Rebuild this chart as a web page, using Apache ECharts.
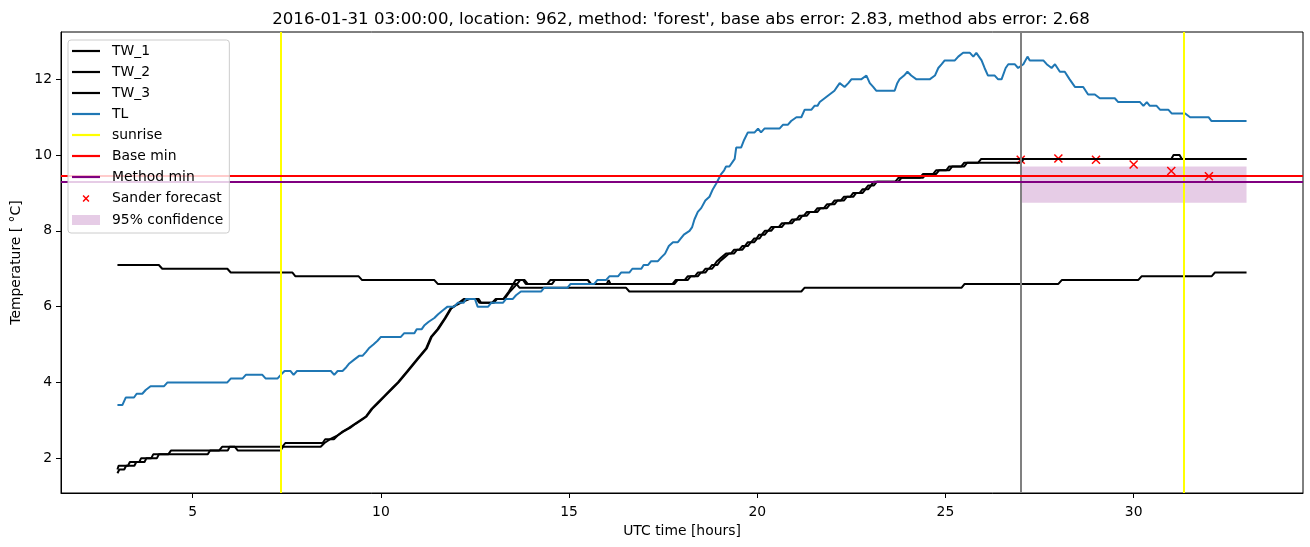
<!DOCTYPE html>
<html>
<head>
<meta charset="utf-8">
<script src="https://cdn.jsdelivr.net/npm/echarts@6/dist/echarts.min.js"></script>
<style>
html,body{margin:0;padding:0;background:#fff;}
#chart{width:1310px;height:547px;}
</style>
</head>
<body>
<div id="chart"></div>
<script>
// ---------- data (hours UTC, temperature °C) ----------
const titleText = "2016-01-31 03:00:00, location: 962, method: 'forest', base abs error: 2.83, method abs error: 2.68";
const xTicks = [5, 10, 15, 20, 25, 30];
const yTicks = [2, 4, 6, 8, 10, 12];
const xRange = [1.5, 34.5];
const yRange = [1.08, 13.25];

const tw1 = [[3.0,7.1],[4.1,7.1],[4.19,7.0],[5.92,7.0],[6.01,6.9],[7.65,6.9],[7.73,6.8],[9.41,6.8],[9.5,6.7],[11.42,6.7],[11.51,6.6],[13.6,6.6],[13.68,6.5],[16.51,6.5],[16.6,6.4],[21.17,6.4],[21.26,6.5],[25.43,6.5],[25.51,6.6],[28.0,6.6],[28.09,6.7],[30.12,6.7],[30.21,6.8],[32.07,6.8],[32.16,6.9],[33.0,6.9]];

const tw2 = [[3.0,1.7],[3.03,1.8],[3.28,1.8],[3.33,1.9],[3.58,1.9],[3.63,2.0],[3.9,2.0],[3.95,2.1],[4.35,2.1],[4.42,2.2],[5.7,2.2],[5.78,2.3],[7.38,2.3],[7.46,2.4],[8.45,2.4],[8.52,2.5],[8.75,2.5],[8.85,2.6],[8.98,2.7],[9.15,2.8],[9.3,2.9],[9.45,3.0],[9.6,3.1],[9.75,3.3],[9.9,3.45],[10.1,3.65],[10.3,3.85],[10.45,4.0],[10.7,4.3],[10.95,4.6],[11.2,4.9],[11.33,5.2],[11.5,5.4],[11.7,5.7],[11.85,5.95],[12.0,6.05],[12.2,6.2],[12.6,6.2],[12.66,6.1],[12.95,6.1],[13.05,6.2],[13.25,6.2],[13.4,6.4],[13.58,6.7],[13.82,6.7],[13.9,6.6],[14.42,6.6],[14.5,6.7],[15.5,6.7],[15.58,6.6],[17.75,6.6],[17.83,6.7],[18.07,6.7],[18.15,6.8],[18.34,6.8],[18.42,6.9],[18.54,6.9],[18.62,7.0],[18.72,7.0],[18.8,7.1],[18.86,7.1],[18.93,7.2],[18.98,7.2],[19.05,7.3],[19.1,7.3],[19.17,7.4],[19.3,7.4],[19.38,7.5],[19.52,7.5],[19.6,7.6],[19.67,7.6],[19.75,7.7],[19.84,7.7],[19.92,7.8],[19.98,7.8],[20.05,7.9],[20.12,7.9],[20.2,8.0],[20.29,8.0],[20.37,8.1],[20.57,8.1],[20.65,8.2],[20.84,8.2],[20.92,8.3],[21.04,8.3],[21.12,8.4],[21.24,8.4],[21.32,8.5],[21.52,8.5],[21.6,8.6],[21.77,8.6],[21.85,8.7],[21.97,8.7],[22.05,8.8],[22.22,8.8],[22.3,8.9],[22.47,8.9],[22.55,9.0],[22.72,9.0],[22.8,9.1],[22.87,9.1],[22.95,9.2],[23.02,9.2],[23.1,9.3],[23.67,9.3],[23.75,9.4],[24.32,9.4],[24.4,9.5],[24.67,9.5],[24.75,9.6],[25.02,9.6],[25.1,9.7],[25.42,9.7],[25.5,9.8],[25.87,9.8],[25.95,9.9],[33.0,9.9]];

const tw3 = [[3.0,1.6],[3.05,1.7],[3.18,1.7],[3.23,1.8],[3.45,1.8],[3.5,1.9],[3.72,1.9],[3.77,2.0],[4.05,2.0],[4.1,2.1],[5.4,2.1],[5.46,2.2],[5.93,2.2],[5.98,2.3],[6.12,2.3],[6.2,2.2],[7.33,2.2],[7.4,2.3],[8.4,2.3],[8.5,2.4],[8.65,2.5],[8.85,2.6],[9.0,2.7],[9.18,2.8],[9.32,2.9],[9.48,3.0],[9.62,3.1],[9.77,3.3],[9.92,3.45],[10.12,3.65],[10.32,3.85],[10.47,4.0],[10.72,4.3],[10.97,4.6],[11.22,4.9],[11.35,5.2],[11.52,5.4],[11.72,5.7],[11.87,5.95],[12.02,6.05],[12.22,6.15],[12.35,6.2],[12.55,6.2],[12.62,6.1],[13.0,6.1],[13.08,6.2],[13.28,6.2],[13.43,6.4],[13.62,6.6],[13.7,6.7],[13.78,6.7],[13.85,6.6],[14.55,6.6],[14.62,6.7],[15.5,6.7],[15.58,6.6],[16.0,6.6],[16.05,6.7],[16.1,6.6],[17.8,6.6],[17.88,6.7],[18.15,6.7],[18.23,6.8],[18.42,6.8],[18.5,6.9],[18.62,6.9],[18.7,7.0],[18.8,7.0],[18.88,7.1],[18.94,7.1],[19.01,7.2],[19.06,7.2],[19.13,7.3],[19.18,7.3],[19.25,7.4],[19.38,7.4],[19.46,7.5],[19.6,7.5],[19.68,7.6],[19.75,7.6],[19.83,7.7],[19.92,7.7],[20.0,7.8],[20.06,7.8],[20.13,7.9],[20.2,7.9],[20.28,8.0],[20.37,8.0],[20.45,8.1],[20.65,8.1],[20.73,8.2],[20.92,8.2],[21.0,8.3],[21.12,8.3],[21.2,8.4],[21.32,8.4],[21.4,8.5],[21.6,8.5],[21.68,8.6],[21.85,8.6],[21.93,8.7],[22.05,8.7],[22.13,8.8],[22.3,8.8],[22.38,8.9],[22.55,8.9],[22.63,9.0],[22.8,9.0],[22.88,9.1],[22.95,9.1],[23.03,9.2],[23.1,9.2],[23.18,9.3],[23.75,9.3],[23.83,9.4],[24.4,9.4],[24.48,9.5],[24.75,9.5],[24.83,9.6],[25.1,9.6],[25.18,9.7],[25.5,9.7],[25.58,9.8],[27.0,9.8],[27.08,9.9],[31.0,9.9],[31.06,10.0],[31.22,10.0],[31.28,9.9],[33.0,9.9]];

const tl = [[3.0,3.4],[3.13,3.4],[3.22,3.6],[3.44,3.6],[3.51,3.7],[3.66,3.7],[3.75,3.8],[3.8,3.8],[3.88,3.9],[4.24,3.9],[4.33,4.0],[5.92,4.0],[6.01,4.1],[6.32,4.1],[6.41,4.2],[6.85,4.2],[6.94,4.1],[7.25,4.1],[7.34,4.2],[7.44,4.3],[7.6,4.3],[7.68,4.2],[7.77,4.3],[8.67,4.3],[8.76,4.2],[8.85,4.3],[8.98,4.3],[9.08,4.4],[9.16,4.5],[9.29,4.6],[9.42,4.7],[9.51,4.7],[9.6,4.8],[9.68,4.9],[9.8,5.0],[9.91,5.1],[10.0,5.2],[10.53,5.2],[10.62,5.3],[10.89,5.3],[10.95,5.4],[11.08,5.4],[11.15,5.5],[11.27,5.6],[11.42,5.7],[11.52,5.8],[11.64,5.9],[11.77,6.0],[11.95,6.0],[12.04,6.1],[12.2,6.1],[12.26,6.2],[12.5,6.2],[12.57,6.0],[12.85,6.0],[12.93,6.1],[13.24,6.1],[13.32,6.2],[13.5,6.2],[13.59,6.3],[13.72,6.4],[14.26,6.4],[14.34,6.5],[14.96,6.5],[15.04,6.6],[15.67,6.6],[15.75,6.7],[15.98,6.7],[16.07,6.8],[16.3,6.8],[16.38,6.9],[16.6,6.9],[16.68,7.0],[16.92,7.0],[16.98,7.1],[17.1,7.1],[17.18,7.2],[17.36,7.2],[17.45,7.3],[17.55,7.4],[17.65,7.6],[17.76,7.7],[17.89,7.7],[18.05,7.9],[18.2,8.0],[18.27,8.1],[18.33,8.3],[18.42,8.5],[18.51,8.6],[18.62,8.8],[18.73,8.9],[18.82,9.1],[18.91,9.25],[19.04,9.5],[19.12,9.6],[19.17,9.7],[19.26,9.7],[19.4,9.9],[19.44,10.2],[19.57,10.2],[19.65,10.4],[19.75,10.6],[19.93,10.6],[20.02,10.7],[20.1,10.6],[20.19,10.7],[20.59,10.7],[20.68,10.8],[20.81,10.8],[20.9,10.9],[21.04,11.0],[21.17,11.0],[21.26,11.2],[21.44,11.2],[21.52,11.3],[21.6,11.3],[21.66,11.4],[21.79,11.5],[21.92,11.6],[22.05,11.7],[22.12,11.8],[22.19,11.9],[22.32,11.8],[22.42,11.9],[22.5,12.0],[22.76,12.0],[22.9,12.1],[22.99,11.9],[23.08,11.8],[23.16,11.7],[23.65,11.7],[23.72,11.9],[23.78,12.0],[23.9,12.1],[23.99,12.2],[24.09,12.1],[24.23,12.0],[24.58,12.0],[24.72,12.1],[24.81,12.3],[24.9,12.4],[24.98,12.5],[25.25,12.5],[25.34,12.6],[25.47,12.7],[25.65,12.7],[25.74,12.6],[25.82,12.7],[25.96,12.5],[26.04,12.3],[26.13,12.1],[26.31,12.1],[26.4,12.0],[26.49,12.0],[26.6,12.3],[26.67,12.4],[26.84,12.4],[26.93,12.3],[27.07,12.4],[27.18,12.6],[27.24,12.5],[27.6,12.5],[27.69,12.4],[27.82,12.3],[27.91,12.4],[28.04,12.2],[28.17,12.2],[28.3,12.0],[28.44,11.8],[28.66,11.8],[28.79,11.6],[28.97,11.6],[29.1,11.5],[29.5,11.5],[29.59,11.4],[30.17,11.4],[30.26,11.3],[30.35,11.4],[30.43,11.3],[30.61,11.3],[30.7,11.2],[30.92,11.2],[31.01,11.1],[31.37,11.1],[31.5,11.0],[31.99,11.0],[32.07,10.9],[33.0,10.9]];

const sunriseHours = [7.333, 31.333];
const baseMin = 9.45;
const methodMin = 9.29;
const nowHour = 27.0;
const forecastHours = [27, 28, 29, 30, 31, 32];
const forecastValues = [9.88, 9.91, 9.88, 9.75, 9.58, 9.44];
const confStart = 27.0, confEnd = 33.0;
const confLow = 8.74, confHigh = 9.70;

// ---------- chart ----------
const FONT = 'DejaVu Sans';
const xMarker = 'path://M0,0 L10,10 M10,0 L0,10';
const xLegendMarker = 'path://M0,0 M2.5,2.5 L9.5,9.5 M9.5,2.5 L2.5,9.5 M12,12';
const lineIcon = 'path://M0,0 L28,0 L28,2.2 L0,2.2 Z';
const lineSeries = (name, data, color) => ({
  name, type: 'line', data, symbol: 'none', showSymbol: false,
  lineStyle: { color, width: 2 }, itemStyle: { color }, animation: false, silent: true
});
const vhLine = (name, color, md) => ({
  name, type: 'line', data: [], symbol: 'none', itemStyle: { color },
  lineStyle: { color, width: 2 }, animation: false, silent: true,
  markLine: { silent: true, symbol: ['none', 'none'], animation: false,
    label: { show: false }, lineStyle: { color, width: 2, type: 'solid', opacity: 1 }, data: md }
});
const lineLegend = (name, color) => ({ name, icon: lineIcon, itemStyle: { color, borderWidth: 0 } });

const chart = echarts.init(document.getElementById('chart'), null, { renderer: 'canvas' });
chart.setOption({
  backgroundColor: '#ffffff',
  textStyle: { fontFamily: FONT },
  animation: false,
  title: {
    text: titleText, left: 676, top: 6, textAlign: 'center',
    textStyle: { fontFamily: FONT, fontSize: 16.6, fontWeight: 'normal', color: '#000' }
  },
  grid: { left: 61, right: 7, top: 32, bottom: 54, show: true, borderColor: '#000', borderWidth: 1, backgroundColor: 'transparent' },
  xAxis: {
    type: 'value', min: xRange[0], max: xRange[1],
    name: 'UTC time [hours]', nameLocation: 'middle', nameGap: 30,
    nameTextStyle: { fontFamily: FONT, fontSize: 13.9, color: '#000' },
    axisLine: { show: true, lineStyle: { color: '#000', width: 1 } },
    axisTick: { show: true, length: 5, lineStyle: { color: '#000', width: 1 }, customValues: xTicks },
    axisLabel: { color: '#000', fontSize: 13.9, fontFamily: FONT, margin: 12, customValues: xTicks },
    splitLine: { show: false }
  },
  yAxis: {
    type: 'value', min: yRange[0], max: yRange[1],
    name: 'Temperature [ °C]', nameLocation: 'middle', nameGap: 33, nameRotate: 90,
    nameTextStyle: { fontFamily: FONT, fontSize: 13.9, color: '#000' },
    axisLine: { show: true, lineStyle: { color: '#000', width: 1 } },
    axisTick: { show: true, length: 5, lineStyle: { color: '#000', width: 1 }, customValues: yTicks },
    axisLabel: { color: '#000', fontSize: 13.9, fontFamily: FONT, margin: 9, customValues: yTicks },
    splitLine: { show: false }
  },
  legend: {
    orient: 'vertical', left: 68, top: 40, selectedMode: false, z: 20,
    itemWidth: 28, itemHeight: 10, itemGap: 7,
    padding: [4, 6, 6, 4],
    backgroundColor: 'rgba(255,255,255,0.8)', borderColor: '#cccccc', borderWidth: 1, borderRadius: 3,
    textStyle: { fontFamily: FONT, fontSize: 13.9, color: '#000', padding: [0, 0, 0, 7] },
    data: [
      lineLegend('TW_1', '#000000'), lineLegend('TW_2', '#000000'), lineLegend('TW_3', '#000000'),
      lineLegend('TL', '#1f77b4'), lineLegend('sunrise', '#ffff00'),
      lineLegend('Base min', '#ff0000'), lineLegend('Method min', '#800080'),
      { name: 'Sander forecast', icon: xLegendMarker, itemStyle: { color: 'none', borderColor: '#ff0000', borderWidth: 1.5, opacity: 1 } },
      { name: '95% confidence', icon: 'rect', itemStyle: { color: 'rgba(128,0,128,0.2)', borderWidth: 0 } }
    ]
  },
  series: [
    lineSeries('TW_1', tw1, '#000000'),
    lineSeries('TW_2', tw2, '#000000'),
    lineSeries('TW_3', tw3, '#000000'),
    lineSeries('TL', tl, '#1f77b4'),
    vhLine('now', '#808080', [{ xAxis: nowHour }]),
    vhLine('sunrise', '#ffff00', sunriseHours.map(h => ({ xAxis: h }))),
    vhLine('Base min', '#ff0000', [{ yAxis: baseMin }]),
    vhLine('Method min', '#800080', [{ yAxis: methodMin }]),
    {
      name: 'Sander forecast', type: 'scatter', animation: false, silent: true,
      data: forecastHours.map((h, i) => [h, forecastValues[i]]),
      symbol: xMarker, symbolSize: 8,
      itemStyle: { color: 'none', borderColor: '#ff0000', borderWidth: 1.5, opacity: 1 }
    },
    {
      name: '95% confidence', type: 'line', data: [], symbol: 'none', animation: false, silent: true,
      itemStyle: { color: 'rgba(128,0,128,0.2)' }, lineStyle: { width: 0 },
      markArea: { silent: true, animation: false, itemStyle: { color: 'rgba(128,0,128,0.2)' },
        data: [[{ xAxis: confStart, yAxis: confLow }, { xAxis: confEnd, yAxis: confHigh }]] }
    }
  ]
});
</script>
</body>
</html>
